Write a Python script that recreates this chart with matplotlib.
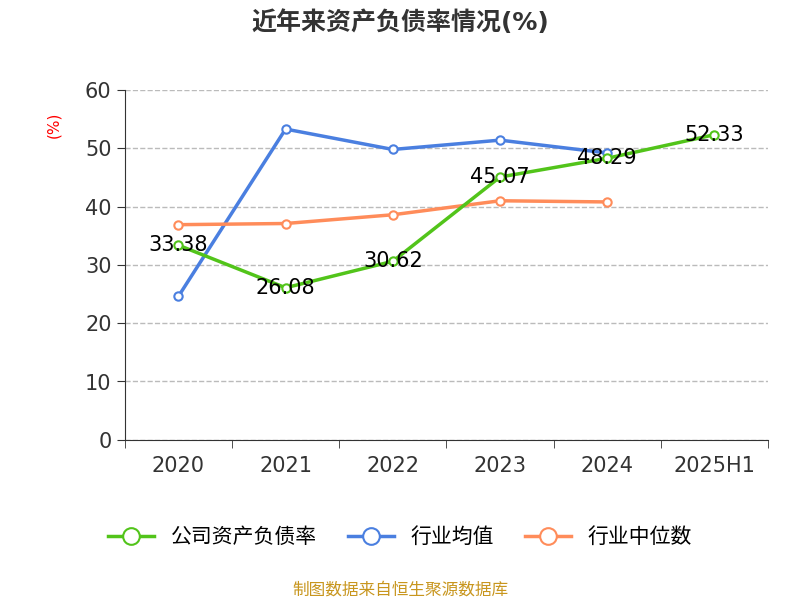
import matplotlib.pyplot as plt
from matplotlib import font_manager

# 找一个可用的中文字体
cjk = [f.name for f in font_manager.fontManager.ttflist
       if "CJK" in f.name or "CJK" in f.fname]
plt.rcParams["font.family"] = ["DejaVu Sans"] + (cjk[:1] if cjk else ["Noto Sans CJK SC"])

years = ["2020", "2021", "2022", "2023", "2024", "2025H1"]
company = [33.38, 26.08, 30.62, 45.07, 48.29, 52.33]
industry_mean = [24.6, 53.3, 49.8, 51.4, 49.2]
industry_median = [36.9, 37.1, 38.6, 41.0, 40.8]

fig = plt.figure(figsize=(8, 6), dpi=100)
ax = fig.add_axes([0.156, 0.267, 0.804, 0.583])

x = list(range(len(years)))
ax.plot(x, company, color="#52c41a", lw=2.5, marker="o", ms=6,
        mfc="white", mew=1.5, label="公司资产负债率", zorder=4)
ax.plot(x[:len(industry_mean)], industry_mean, color="#4a7fe0", lw=2.5, marker="o",
        ms=6, mfc="white", mew=1.5, label="行业均值", zorder=3)
ax.plot(x[:len(industry_median)], industry_median, color="#ff8c5a", lw=2.5, marker="o",
        ms=6, mfc="white", mew=1.5, label="行业中位数", zorder=3)

for xi, v in zip(x, company):
    ax.text(xi, v, f"{v:.2f}", ha="center", va="center", fontsize=15, zorder=5)

ax.set_xlim(-0.5, len(years) - 0.5)
ax.set_ylim(0, 60)
ax.set_yticks(range(0, 61, 10))
ax.set_xticks(x)
ax.set_xticklabels(years)
ax.set_xticks([i - 0.5 for i in range(len(years) + 1)], minor=True)
ax.tick_params(axis="x", which="major", length=0, labelsize=15, colors="#333", pad=12)
ax.tick_params(axis="x", which="minor", length=6, color="#333")
ax.tick_params(axis="y", length=6, labelsize=15, colors="#333")
ax.yaxis.grid(True, ls="--", color="#bbb", lw=1)
for s in ["top", "right"]:
    ax.spines[s].set_visible(False)
ax.spines["left"].set_color("#333")
ax.spines["bottom"].set_color("#333")
ax.text(-0.11, 0.9, "(%)", transform=ax.transAxes, rotation=90, color="red",
        fontsize=11, ha="center", va="center")

fig.text(0.5, 0.962, "近年来资产负债率情况(%)", ha="center", va="center",
         fontsize=18, fontweight="bold", color="#333")
fig.legend(loc="center", bbox_to_anchor=(0.5, 0.105), ncol=3, frameon=False,
           fontsize=15, handlelength=2.2, columnspacing=1.5, markerscale=2)
fig.text(0.5, 0.018, "制图数据来自恒生聚源数据库", ha="center", va="center",
         fontsize=12, color="#c8961e")

fig.savefig("out.png", dpi=100)
